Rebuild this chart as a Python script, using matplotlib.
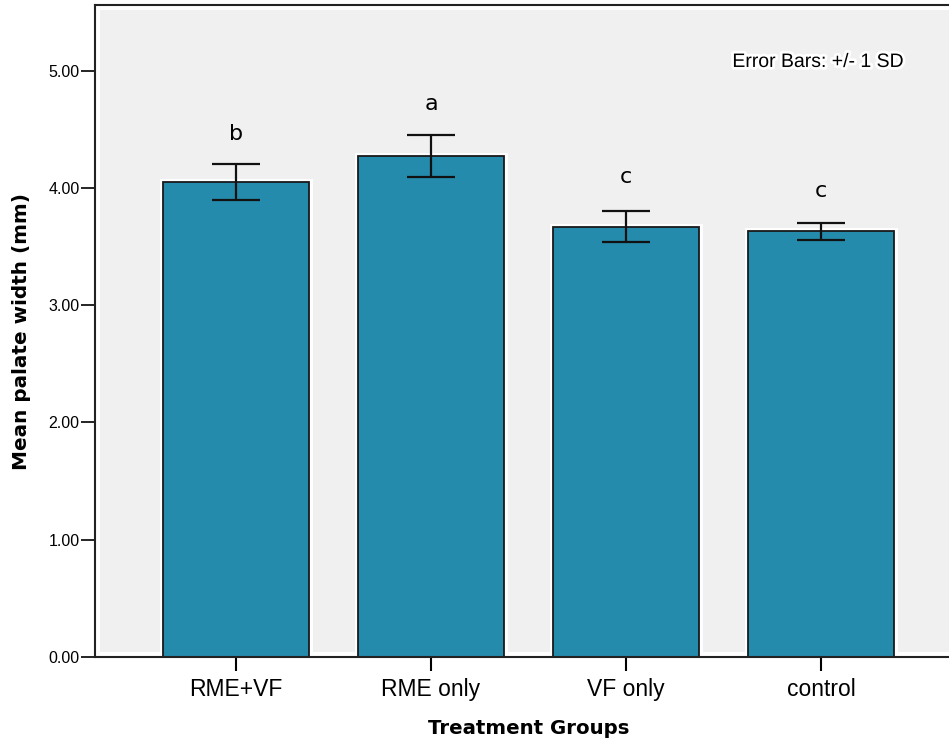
import matplotlib.pyplot as plt
import matplotlib.patheffects as pe
from matplotlib.patches import Rectangle

# data
groups = ['RME+VF', 'RME only', 'VF only', 'control']
means = [4.05, 4.27, 3.67, 3.63]
sds = [0.155, 0.18, 0.13, 0.07]
letters = ['b', 'a', 'c', 'c']
letter_y = [4.46, 4.72, 4.09, 3.97]
yticks = [0.0, 1.0, 2.0, 3.0, 4.0, 5.0]

bar_color = '#248bac'
glow = [pe.withStroke(linewidth=4, foreground='white')]

fig = plt.figure(figsize=(9.49, 7.46), dpi=100)
W, H = 949, 746
# axes spans past the right edge of the picture, like the cropped original
ax = fig.add_axes([95 / W, (H - 657) / H, (962 - 95) / W, (657 - 5) / H])
ax.set_facecolor('white')
ax.add_patch(Rectangle((0.006, 0.008), 0.988, 0.984, transform=ax.transAxes,
                       facecolor='#f0f0f0', edgecolor='none', zorder=0))

x = list(range(len(groups)))
bars = ax.bar(x, means, width=0.75, color=bar_color, edgecolor='#1a1a1a',
              linewidth=1.3, zorder=2)
for b in bars:
    b.set_path_effects([pe.Stroke(linewidth=5, foreground='white'), pe.Normal()])

ax.errorbar(x, means, yerr=sds, fmt='none', ecolor='#111111', elinewidth=1.6,
            capsize=17.5, capthick=1.6, zorder=3)

for xi, lab, ly in zip(x, letters, letter_y):
    ax.text(xi, ly, lab, ha='center', va='center', fontsize=16,
            family='DejaVu Sans', zorder=4)

ax.text(3.43, 5.07, 'Error Bars: +/- 1 SD', ha='right', va='center',
        fontsize=14, family='Liberation Sans', path_effects=glow, zorder=4)

ax.set_xlim(-0.723, 3.723)
ax.set_ylim(0, 5.56)
ax.set_yticks(yticks)
ax.set_yticklabels([f'{t:.2f}' for t in yticks], fontsize=11.5, family='Liberation Sans')
ax.set_xticks(x)
ax.set_xticklabels(groups, fontsize=16.5, family='Liberation Sans')
ax.tick_params(axis='y', length=10, width=1.2, pad=1)
ax.tick_params(axis='x', length=10, width=1.5, pad=5)

for s in ['left', 'bottom', 'top']:
    ax.spines[s].set_linewidth(1.5)
    ax.spines[s].set_color('#222222')
ax.spines['right'].set_visible(False)

ax.set_ylabel('Mean palate width (mm)', fontsize=14.4, fontweight='bold',
              family='DejaVu Sans', va='center')
ax.set_xlabel('Treatment Groups', fontsize=14.2, fontweight='bold',
              family='DejaVu Sans', va='center')
ax.yaxis.set_label_coords(-(95 - 22) / (962 - 95), 0.5)
ax.xaxis.set_label_coords(0.5, -(728 - 657) / (657 - 5))

fig.savefig('out.png', dpi=100)
